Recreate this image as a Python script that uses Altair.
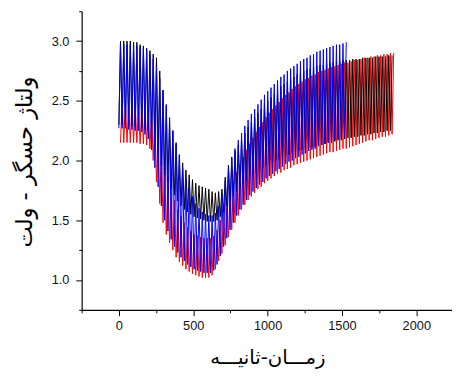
import altair as alt
import pandas as pd

# ---- series data: per-cycle trough / peak voltages ----
black_start, black_period = 0.0, 22.0
red_start, red_period = 11.0, 22.0
blue_start, blue_period = 0.0, 22.0

black_high = [3.00, 3.00, 3.00, 3.00, 2.99, 2.99, 2.97, 2.96, 2.94, 2.92,
              2.89, 2.86, 2.75, 2.59, 2.46, 2.34, 2.25, 2.15, 2.05, 1.98,
              1.92, 1.88, 1.84, 1.81, 1.79, 1.78, 1.77, 1.76, 1.74, 1.73,
              1.74, 1.76, 1.86, 1.96, 2.03, 2.08, 2.13, 2.18, 2.23, 2.28,
              2.32, 2.36, 2.40, 2.43, 2.47, 2.50, 2.53, 2.56, 2.59, 2.62,
              2.64, 2.66, 2.68, 2.70, 2.72, 2.73, 2.75, 2.76, 2.77, 2.78,
              2.79, 2.80, 2.80, 2.81, 2.82, 2.82, 2.83, 2.83, 2.84, 2.84,
              2.84, 2.85, 2.85, 2.85, 2.86, 2.86, 2.86, 2.86, 2.87, 2.87,
              2.87, 2.87, 2.88, 2.88]
black_low = [2.30, 2.30, 2.30, 2.29, 2.29, 2.28, 2.28, 2.27, 2.26, 2.25,
             2.21, 2.15, 2.06, 1.96, 1.88, 1.82, 1.76, 1.71, 1.66, 1.62,
             1.59, 1.57, 1.55, 1.53, 1.52, 1.51, 1.50, 1.49, 1.49, 1.49,
             1.50, 1.53, 1.57, 1.62, 1.66, 1.70, 1.74, 1.77, 1.80, 1.83,
             1.86, 1.88, 1.90, 1.92, 1.94, 1.96, 1.97, 1.99, 2.00, 2.01,
             2.03, 2.04, 2.05, 2.06, 2.07, 2.08, 2.09, 2.10, 2.11, 2.11,
             2.12, 2.13, 2.13, 2.14, 2.15, 2.15, 2.16, 2.17, 2.17, 2.18,
             2.19, 2.19, 2.20, 2.20, 2.21, 2.21, 2.22, 2.22, 2.23, 2.23,
             2.24, 2.24, 2.25, 2.25]

red_high = [2.50, 2.50, 2.49, 2.49, 2.48, 2.47, 2.47, 2.46, 2.44, 2.41,
            2.35, 2.23, 2.10, 1.96, 1.86, 1.76, 1.67, 1.59, 1.53, 1.48,
            1.44, 1.41, 1.38, 1.37, 1.36, 1.35, 1.35, 1.35, 1.37, 1.42,
            1.50, 1.58, 1.66, 1.74, 1.82, 1.90, 1.97, 2.03, 2.09, 2.14,
            2.19, 2.24, 2.28, 2.32, 2.36, 2.40, 2.43, 2.46, 2.49, 2.52,
            2.55, 2.57, 2.60, 2.62, 2.64, 2.66, 2.68, 2.69, 2.71, 2.72,
            2.74, 2.75, 2.76, 2.77, 2.78, 2.79, 2.80, 2.81, 2.82, 2.82,
            2.83, 2.84, 2.84, 2.85, 2.86, 2.86, 2.87, 2.87, 2.88, 2.88,
            2.89, 2.89, 2.90, 2.90]
red_low = [2.15, 2.15, 2.15, 2.15, 2.15, 2.15, 2.14, 2.14, 2.13, 2.10,
           2.00, 1.82, 1.64, 1.48, 1.38, 1.31, 1.25, 1.19, 1.15, 1.12,
           1.09, 1.07, 1.05, 1.04, 1.03, 1.02, 1.02, 1.02, 1.04, 1.09,
           1.16, 1.22, 1.29, 1.36, 1.42, 1.48, 1.54, 1.59, 1.63, 1.67,
           1.70, 1.73, 1.76, 1.78, 1.81, 1.83, 1.85, 1.87, 1.89, 1.90,
           1.92, 1.93, 1.94, 1.96, 1.97, 1.98, 1.99, 2.00, 2.01, 2.02,
           2.03, 2.04, 2.05, 2.06, 2.07, 2.07, 2.08, 2.09, 2.10, 2.10,
           2.11, 2.12, 2.13, 2.14, 2.15, 2.16, 2.17, 2.17, 2.18, 2.19,
           2.20, 2.20, 2.21, 2.22]

blue_high = [2.97, 2.97, 2.97, 2.97, 2.96, 2.96, 2.95, 2.94, 2.92, 2.89,
             2.85, 2.79, 2.69, 2.58, 2.47, 2.36, 2.25, 2.14, 2.04, 1.94,
             1.85, 1.77, 1.70, 1.64, 1.60, 1.57, 1.55, 1.54, 1.54, 1.56,
             1.62, 1.72, 1.83, 1.93, 2.02, 2.10, 2.17, 2.23, 2.29, 2.34,
             2.39, 2.43, 2.47, 2.51, 2.55, 2.58, 2.61, 2.64, 2.67, 2.70,
             2.72, 2.75, 2.77, 2.79, 2.81, 2.83, 2.85, 2.86, 2.88, 2.89,
             2.91, 2.92, 2.93, 2.94, 2.95, 2.96, 2.97, 2.97, 2.98, 2.99]
blue_low = [2.27, 2.27, 2.27, 2.26, 2.26, 2.25, 2.25, 2.24, 2.22, 2.18,
            2.09, 1.94, 1.78, 1.62, 1.50, 1.41, 1.34, 1.28, 1.23, 1.19,
            1.16, 1.13, 1.11, 1.09, 1.08, 1.07, 1.06, 1.06, 1.06, 1.08,
            1.13, 1.20, 1.28, 1.35, 1.42, 1.48, 1.54, 1.59, 1.63, 1.67,
            1.71, 1.74, 1.77, 1.80, 1.82, 1.85, 1.87, 1.89, 1.91, 1.93,
            1.95, 1.97, 1.99, 2.00, 2.02, 2.03, 2.05, 2.06, 2.08, 2.09,
            2.10, 2.12, 2.13, 2.14, 2.15, 2.16, 2.17, 2.18, 2.19, 2.20]

x_ticks = [-250, 0, 250, 500, 750, 1000, 1250, 1500, 1750, 2000]
y_ticks = [0.75, 1.0, 1.25, 1.5, 1.75, 2.0, 2.25, 2.5, 2.75, 3.0, 3.25]

x_title = "زمـــان-ثانیـــه"
y_title = "ولتاژ حسگر - ولت"


def build(name, start, period, lows, highs):
    # each cycle: trough, then peak half a period later
    rows = []
    k = 0
    for i, (lo, hi) in enumerate(zip(lows, highs)):
        t = start + i * period
        rows.append({"t": t, "v": lo, "k": k, "s": name})
        rows.append({"t": t + period / 2, "v": hi, "k": k + 1, "s": name})
        k += 2
    return pd.DataFrame(rows)


x_enc = alt.X(
    "t:Q",
    scale=alt.Scale(domain=[-250, 2240], nice=False, zero=False),
    axis=alt.Axis(
        values=x_ticks,
        title=x_title,
        format="d",
        labelExpr="datum.value % 500 === 0 ? datum.label : ''",
        tickSize={"condition": {"test": "datum.value % 500 === 0", "value": 6}, "value": 3},
        labelPadding=4,
        labelFont="Liberation Sans",
        labelFontSize=13,
        labelColor="#111111",
        titleFont="DejaVu Sans",
        titleFontSize=20,
        titleFontWeight="normal",
        titleColor="#000000",
        titleX=189,
        titleY=49,
        titleBaseline="middle",
        titleAlign="center",
        grid=False,
        domainColor="#000000",
        tickColor="#000000",
        domainWidth=1.2,
    ),
)

y_enc = alt.Y(
    "v:Q",
    scale=alt.Scale(domain=[0.75, 3.25], nice=False, zero=False),
    axis=alt.Axis(
        values=y_ticks,
        title=y_title,
        format=".1f",
        labelExpr="abs(datum.value * 2 - round(datum.value * 2)) < 0.001 ? datum.label : ''",
        tickSize={"condition": {"test": "abs(datum.value * 2 - round(datum.value * 2)) < 0.001",
                                "value": 6}, "value": 3},
        labelPadding=7,
        labelFont="Liberation Sans",
        labelFontSize=13,
        labelColor="#111111",
        titleFont="DejaVu Sans",
        titleFontSize=23,
        titleFontWeight="normal",
        titleColor="#000000",
        titleAngle=270,
        titleX=-58,
        titleY=153,
        titleBaseline="middle",
        titleAlign="center",
        grid=False,
        domainColor="#000000",
        tickColor="#000000",
        domainWidth=1.2,
    ),
)


def layer(df, color):
    return alt.Chart(df).mark_line(color=color, strokeWidth=1, clip=True).encode(
        x=x_enc, y=y_enc, order="k:Q"
    )


chart = alt.layer(
    layer(build("red", red_start, red_period, red_low, red_high), "#ff0000"),
    layer(build("black", black_start, black_period, black_low, black_high), "#000000"),
    layer(build("blue", blue_start, blue_period, blue_low, blue_high), "#0000ff"),
).properties(
    width=377,
    height=304,
    autosize=alt.AutoSizeParams(type="none"),
    padding={"left": 75, "top": 0, "right": 0, "bottom": 60},
    background="#ffffff",
).configure_view(stroke=None)

chart.save("out.html", embed_options={"renderer": "svg", "actions": False})
